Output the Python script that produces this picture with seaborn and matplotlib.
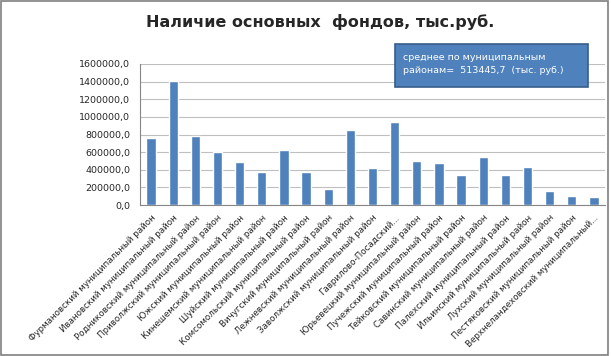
import pandas as pd
import matplotlib.pyplot as plt
import seaborn as sns
from matplotlib.patches import Rectangle
from matplotlib.ticker import FuncFormatter, FixedLocator

districts = [
    "Фурмановский муниципальный район",
    "Ивановский муниципальный район",
    "Родниковский муниципальный район",
    "Приволжский муниципальный район",
    "Южский муниципальный район",
    "Кинешемский муниципальный район",
    "Шуйский муниципальный район",
    "Комсомольский муниципальный район",
    "Вичугский муниципальный район",
    "Лежневский муниципальный район",
    "Заволжский муниципальный район",
    "Гаврилово-Посадский...",
    "Юрьевецкий муниципальный район",
    "Пучежский муниципальный район",
    "Тейковский муниципальный район",
    "Савинский муниципальный район",
    "Палехский муниципальный район",
    "Ильинский муниципальный район",
    "Лухский муниципальный район",
    "Пестяковский муниципальный район",
    "Верхнеландеховский муниципальный...",
]
funds = [765000, 1410000, 778000, 599000, 486000, 379000, 622000,
         379000, 182000, 853000, 420000, 940000, 500000, 474000,
         345000, 542000, 345000, 432000, 159000, 99000, 87000]
y_ticks = [0, 200000, 400000, 600000, 800000, 1000000, 1200000, 1400000, 1600000]

df = pd.DataFrame({"district": districts, "funds": funds})

sns.set_style("white")
plt.rcParams['font.family'] = ['DejaVu Sans']

fig = plt.figure(figsize=(6.11, 3.56), dpi=100)
ax = fig.add_axes([140 / 611, 1 - 205 / 356, 465 / 611, 141 / 356])

sns.barplot(data=df, x="district", y="funds", color="#4F81BD", width=0.42,
            saturation=1, ax=ax, zorder=3)

ax.set_ylim(0, 1600000)
ax.set_xlim(-0.5, len(districts) - 0.5)
ax.set_yticks(y_ticks)
ax.yaxis.set_major_formatter(FuncFormatter(lambda v, p: f"{v:.1f}".replace(".", ",")))
ax.grid(axis="y", color="#BFBFBF", linewidth=0.8, zorder=0)
ax.tick_params(axis="y", labelsize=6.8, length=0, pad=7, colors="#262626")

# category labels at bar centres, tick marks between bars
ax.set_xticks(range(len(districts)))
ax.set_xticklabels(districts, rotation=45, ha="right", rotation_mode="anchor",
                   fontsize=6.3, color="#262626")
ax.tick_params(axis="x", length=0, pad=6)
ax.xaxis.set_minor_locator(FixedLocator([i - 0.5 for i in range(len(districts) + 1)]))
ax.tick_params(axis="x", which="minor", length=4, color="#868686", width=0.8)

for s in ["top", "right"]:
    ax.spines[s].set_visible(False)
ax.spines["left"].set_color("#868686")
ax.spines["bottom"].set_color("#868686")
ax.set_xlabel("")
ax.set_ylabel("")

fig.text(320 / 611, 1 - 22 / 356, "Наличие основных  фондов, тыс.руб.",
         ha="center", va="center", fontsize=11.5, fontweight="bold")

# annotation box
fig.patches.append(Rectangle((395 / 611, 1 - 87 / 356), 193 / 611, 43 / 356,
                             transform=fig.transFigure, facecolor="#4F81BD",
                             edgecolor="#385D8A", linewidth=1.2, zorder=5))
fig.text(403 / 611, 1 - 64 / 356,
         "среднее по муниципальным\nрайонам=  513445,7  (тыс. руб.)",
         ha="left", va="center", fontsize=6.8, color="white", linespacing=1.6,
         zorder=6)

# outer frame
fig.patches.append(Rectangle((0.002, 0.003), 0.993, 0.994, transform=fig.transFigure,
                             facecolor="none", edgecolor="#7F7F7F", linewidth=1.2))

fig.savefig("out.png", dpi=100)
